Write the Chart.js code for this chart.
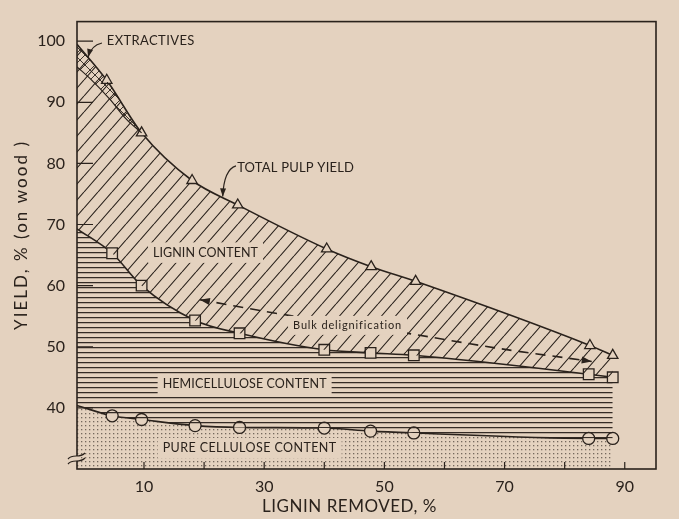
<!DOCTYPE html>
<html>
<head>
<meta charset="utf-8">
<script src="https://cdn.jsdelivr.net/npm/chart.js@4.4.0/dist/chart.umd.min.js"></script>
<style>
  html, body { margin: 0; padding: 0; background: #e4d2bf; }
  #wrap { width: 679px; height: 519px; }
</style>
</head>
<body>
<div id="wrap"><canvas id="chart"></canvas></div>
<script>
(function () {

  'use strict';

  var INK = '#2a221c';
  var PAPER = '#e4d2bf';
  var FONT = "Lato, 'DejaVu Sans', sans-serif";

  // Where the curves leave the y axis (lignin removed, %).
  var axisStart = -1.15;

  // Total pulp yield (triangles).
  var removedTriangles = [3.8, 9.6, 18.0, 25.6, 40.4, 47.8, 55.2, 84.2, 88.0];
  var totalPulpYield = [93.6, 85.0, 77.2, 73.2, 66.0, 63.1, 60.7, 50.2, 48.6];
  var startYield = 99.5;

  // Carbohydrates (squares) and pure cellulose (circles).
  var removedSamples = [4.7, 9.6, 18.5, 25.9, 40.0, 47.7, 54.9, 84.0, 88.0];
  var carbohydrateYield = [65.3, 60.0, 54.3, 52.2, 49.5, 49.0, 48.6, 45.5, 45.0];
  var celluloseYield = [38.7, 38.1, 37.1, 36.8, 36.7, 36.2, 35.9, 35.0, 35.0];
  var startCarbohydrate = 69.3;
  var startCellulose = 40.4;

  // Extractive-free wood line, merging into the total yield curve.
  var extractFreeX = [-1.15, 1.0, 4.3, 7.1, 9.6];
  var extractFreeY = [95.8, 93.9, 90.5, 87.2, 85.0];

  // Dashed "bulk delignification" arrow.
  var bulkX = [19.3, 34.3, 52.6, 69.2, 84.5];
  var bulkY = [57.7, 55.1, 52.4, 49.7, 47.6];

  var xTicks = [10, 30, 50, 70, 90];
  var xMinorTicks = [10, 20, 30, 40, 50, 60, 70, 80, 90];
  var yTicks = [40, 50, 60, 70, 80, 90, 100];

  function pts(xs, ys) {
    return xs.map(function (x, i) { return { x: x, y: ys[i] }; });
  }

  function makePattern(w, h, draw) {
    var c = document.createElement('canvas');
    c.width = w;
    c.height = h;
    var g = c.getContext('2d');
    g.strokeStyle = INK;
    g.fillStyle = INK;
    draw(g, w, h);
    return g.createPattern(c, 'repeat');
  }

  var diagHatch = makePattern(14, 16, function (g, w, h) {
    g.lineWidth = 1.1;
    g.beginPath();
    [-w, 0, w].forEach(function (o) {
      g.moveTo(o, h);
      g.lineTo(o + w, 0);
    });
    g.stroke();
  });

  var crossHatch = makePattern(10, 10, function (g, w, h) {
    g.lineWidth = 0.9;
    g.beginPath();
    g.moveTo(0, h); g.lineTo(w, 0);
    g.moveTo(0, 0); g.lineTo(w, h);
    g.stroke();
  });

  var hLines = makePattern(8, 5, function (g, w) {
    g.globalAlpha = 0.95;
    g.fillRect(0, 2, w, 1.25);
  });

  var dots = makePattern(4, 4, function (g) {
    g.globalAlpha = 0.6;
    g.fillRect(1, 1, 1.3, 1.3);
  });

  function markerRadius(r) {
    return function (ctx) { return ctx.dataIndex === 0 ? 0 : r; };
  }

  function spacedText(ctx, text, x, y, size, width, box) {
    ctx.font = '400 ' + size + 'px ' + FONT;
    ctx.letterSpacing = '0px';
    var w = ctx.measureText(text).width;
    var sp = Math.max(-1, (width - w) / text.length);
    if (box) {
      ctx.fillStyle = PAPER;
      ctx.fillRect(x - 5, y - size / 2 - 4, width + 10, size + 8);
    }
    ctx.letterSpacing = sp + 'px';
    ctx.fillStyle = INK;
    ctx.textAlign = 'left';
    ctx.textBaseline = 'middle';
    ctx.fillText(text, x, y);
    ctx.letterSpacing = '0px';
  }

  function arrowHead(ctx, tx, ty, fx, fy, len, half) {
    var a = Math.atan2(ty - fy, tx - fx);
    ctx.beginPath();
    ctx.moveTo(tx, ty);
    ctx.lineTo(tx - len * Math.cos(a) + half * Math.sin(a), ty - len * Math.sin(a) - half * Math.cos(a));
    ctx.lineTo(tx - len * Math.cos(a) - half * Math.sin(a), ty - len * Math.sin(a) + half * Math.cos(a));
    ctx.closePath();
    ctx.fill();
  }

  function curvedArrow(ctx, x, y, from, ctrl, tip) {
    var fx = x.getPixelForValue(from[0]), fy = y.getPixelForValue(from[1]);
    var cx = x.getPixelForValue(ctrl[0]), cy = y.getPixelForValue(ctrl[1]);
    var tx = x.getPixelForValue(tip[0]), ty = y.getPixelForValue(tip[1]);
    ctx.beginPath();
    ctx.moveTo(fx, fy);
    ctx.quadraticCurveTo(cx, cy, tx, ty);
    ctx.stroke();
    arrowHead(ctx, tx, ty, cx, cy, 8, 3);
  }

  var paperDecor = {
    id: 'paperDecor',
    beforeDraw: function (chart) {
      var ctx = chart.ctx;
      ctx.save();
      ctx.fillStyle = PAPER;
      ctx.fillRect(0, 0, chart.width, chart.height);
      ctx.restore();
    },
    afterDatasetsDraw: function (chart) {
      var ctx = chart.ctx;
      var x = chart.scales.x, y = chart.scales.y;
      ctx.save();
      ctx.strokeStyle = INK;
      ctx.fillStyle = INK;
      ctx.lineWidth = 1.2;

      // Bulk delignification arrowheads.
      var bulk = chart.getDatasetMeta(4).data;
      var n = bulk.length;
      arrowHead(ctx, bulk[0].x, bulk[0].y, bulk[1].x, bulk[1].y, 10, 3.5);
      arrowHead(ctx, bulk[n - 1].x, bulk[n - 1].y, bulk[n - 2].x, bulk[n - 2].y, 10, 3.5);

      // Pointer arrows for the two outside labels.
      curvedArrow(ctx, x, y, [3.0, 99.7], [1.2, 99.3], [0.7, 97.4]);
      curvedArrow(ctx, x, y, [25.3, 79.6], [23.3, 79.0], [23.1, 74.6]);

      function at(vx, vy) { return [x.getPixelForValue(vx), y.getPixelForValue(vy)]; }
      var p;
      p = at(3.8, 100.0); spacedText(ctx, 'EXTRACTIVES', p[0], p[1], 13, 88, false);
      p = at(25.5, 79.2); spacedText(ctx, 'TOTAL PULP YIELD', p[0], p[1], 13, 117, false);
      p = at(11.5, 65.4); spacedText(ctx, 'LIGNIN CONTENT', p[0], p[1], 12.5, 105, true);
      p = at(34.8, 53.5); spacedText(ctx, 'Bulk delignification', p[0], p[1], 11, 109, true);
      p = at(13.1, 43.9); spacedText(ctx, 'HEMICELLULOSE CONTENT', p[0], p[1], 12.5, 164, true);
      p = at(13.1, 33.4); spacedText(ctx, 'PURE CELLULOSE CONTENT', p[0], p[1], 12.5, 174, true);
      ctx.restore();
    },
    afterDraw: function (chart) {
      var ctx = chart.ctx;
      var a = chart.chartArea;
      var x = chart.scales.x, y = chart.scales.y;
      ctx.save();
      ctx.strokeStyle = INK;
      ctx.lineWidth = 1.6;
      ctx.strokeRect(a.left, a.top, a.right - a.left, a.bottom - a.top);

      // Inward tick marks.
      ctx.lineWidth = 1.2;
      ctx.beginPath();
      xMinorTicks.forEach(function (v) {
        var px = x.getPixelForValue(v);
        ctx.moveTo(px, a.bottom);
        ctx.lineTo(px, a.bottom - 7);
      });
      yTicks.forEach(function (v) {
        var py = y.getPixelForValue(v);
        ctx.moveTo(a.left, py);
        ctx.lineTo(a.left + 16, py);
      });
      ctx.stroke();

      // Axis break mark.
      var by = y.getPixelForValue(31.8);
      ctx.fillStyle = PAPER;
      ctx.fillRect(a.left - 2, by - 2, 4, 5);
      ctx.beginPath();
      [-2, 3].forEach(function (o) {
        ctx.moveTo(a.left - 9, by + o + 3);
        ctx.bezierCurveTo(a.left - 4, by + o - 3, a.left + 2, by + o + 3, a.left + 8, by + o - 3);
      });
      ctx.stroke();

      // Axis titles.
      spacedText(ctx, 'LIGNIN REMOVED, %', 262, 507, 17, 175, false);
      ctx.translate(22, 235);
      ctx.rotate(-Math.PI / 2);
      spacedText(ctx, 'YIELD, % (on wood )', -95, 0, 17, 190, false);
      ctx.restore();
    }
  };

  var line = {
    borderColor: INK,
    borderWidth: 1.6,
    pointBackgroundColor: PAPER,
    pointBorderColor: INK,
    pointBorderWidth: 1.3,
    cubicInterpolationMode: 'monotone'
  };

  var datasets = [
    Object.assign({}, line, {
      label: 'Extractives',
      data: pts(extractFreeX, extractFreeY),
      borderWidth: 1.2,
      pointRadius: 0,
      fill: { target: 1 },
      backgroundColor: crossHatch
    }),
    Object.assign({}, line, {
      label: 'Total pulp yield',
      data: [{ x: axisStart, y: startYield }].concat(pts(removedTriangles, totalPulpYield)),
      pointStyle: 'triangle',
      pointRadius: markerRadius(6),
      fill: { target: 2 },
      backgroundColor: diagHatch
    }),
    Object.assign({}, line, {
      label: 'Lignin-free pulp',
      data: [{ x: axisStart, y: startCarbohydrate }].concat(pts(removedSamples, carbohydrateYield)),
      pointStyle: 'rect',
      pointRadius: markerRadius(7.5),
      fill: { target: 3 },
      backgroundColor: hLines
    }),
    Object.assign({}, line, {
      label: 'Pure cellulose',
      data: [{ x: axisStart, y: startCellulose }].concat(pts(removedSamples, celluloseYield)),
      pointStyle: 'circle',
      pointRadius: markerRadius(6),
      fill: 'start',
      backgroundColor: dots
    }),
    Object.assign({}, line, {
      label: 'Bulk delignification',
      data: pts(bulkX, bulkY),
      borderWidth: 1.6,
      borderDash: [10, 7],
      pointRadius: 0,
      fill: false,
      tension: 0.3,
      cubicInterpolationMode: 'default'
    })
  ];

  var tickFont = { family: FONT, size: 16, weight: '400' };

  new Chart(document.getElementById('chart'), {
    type: 'line',
    data: { datasets: datasets },
    options: {
      responsive: true,
      maintainAspectRatio: false,
      animation: false,
      events: [],
      layout: { padding: { top: 14, right: 23, left: 0, bottom: 0 } },
      plugins: {
        legend: { display: false },
        tooltip: { enabled: false },
        filler: { propagate: false }
      },
      scales: {
        x: {
          type: 'linear',
          min: -1.15,
          max: 95.2,
          afterBuildTicks: function (s) { s.ticks = xTicks.map(function (v) { return { value: v }; }); },
          afterFit: function (s) { s.height = 50; },
          grid: { display: false, drawTicks: false },
          border: { display: false },
          ticks: { color: INK, font: tickFont, padding: 8, autoSkip: false, maxRotation: 0 }
        },
        y: {
          min: 30,
          max: 103.2,
          afterBuildTicks: function (s) { s.ticks = yTicks.map(function (v) { return { value: v }; }); },
          afterFit: function (s) { s.width = 77; },
          grid: { display: false, drawTicks: false },
          border: { display: false },
          ticks: { color: INK, font: tickFont, padding: 12 }
        }
      }
    },
    plugins: [paperDecor]
  });

})();
</script>
</body>
</html>
